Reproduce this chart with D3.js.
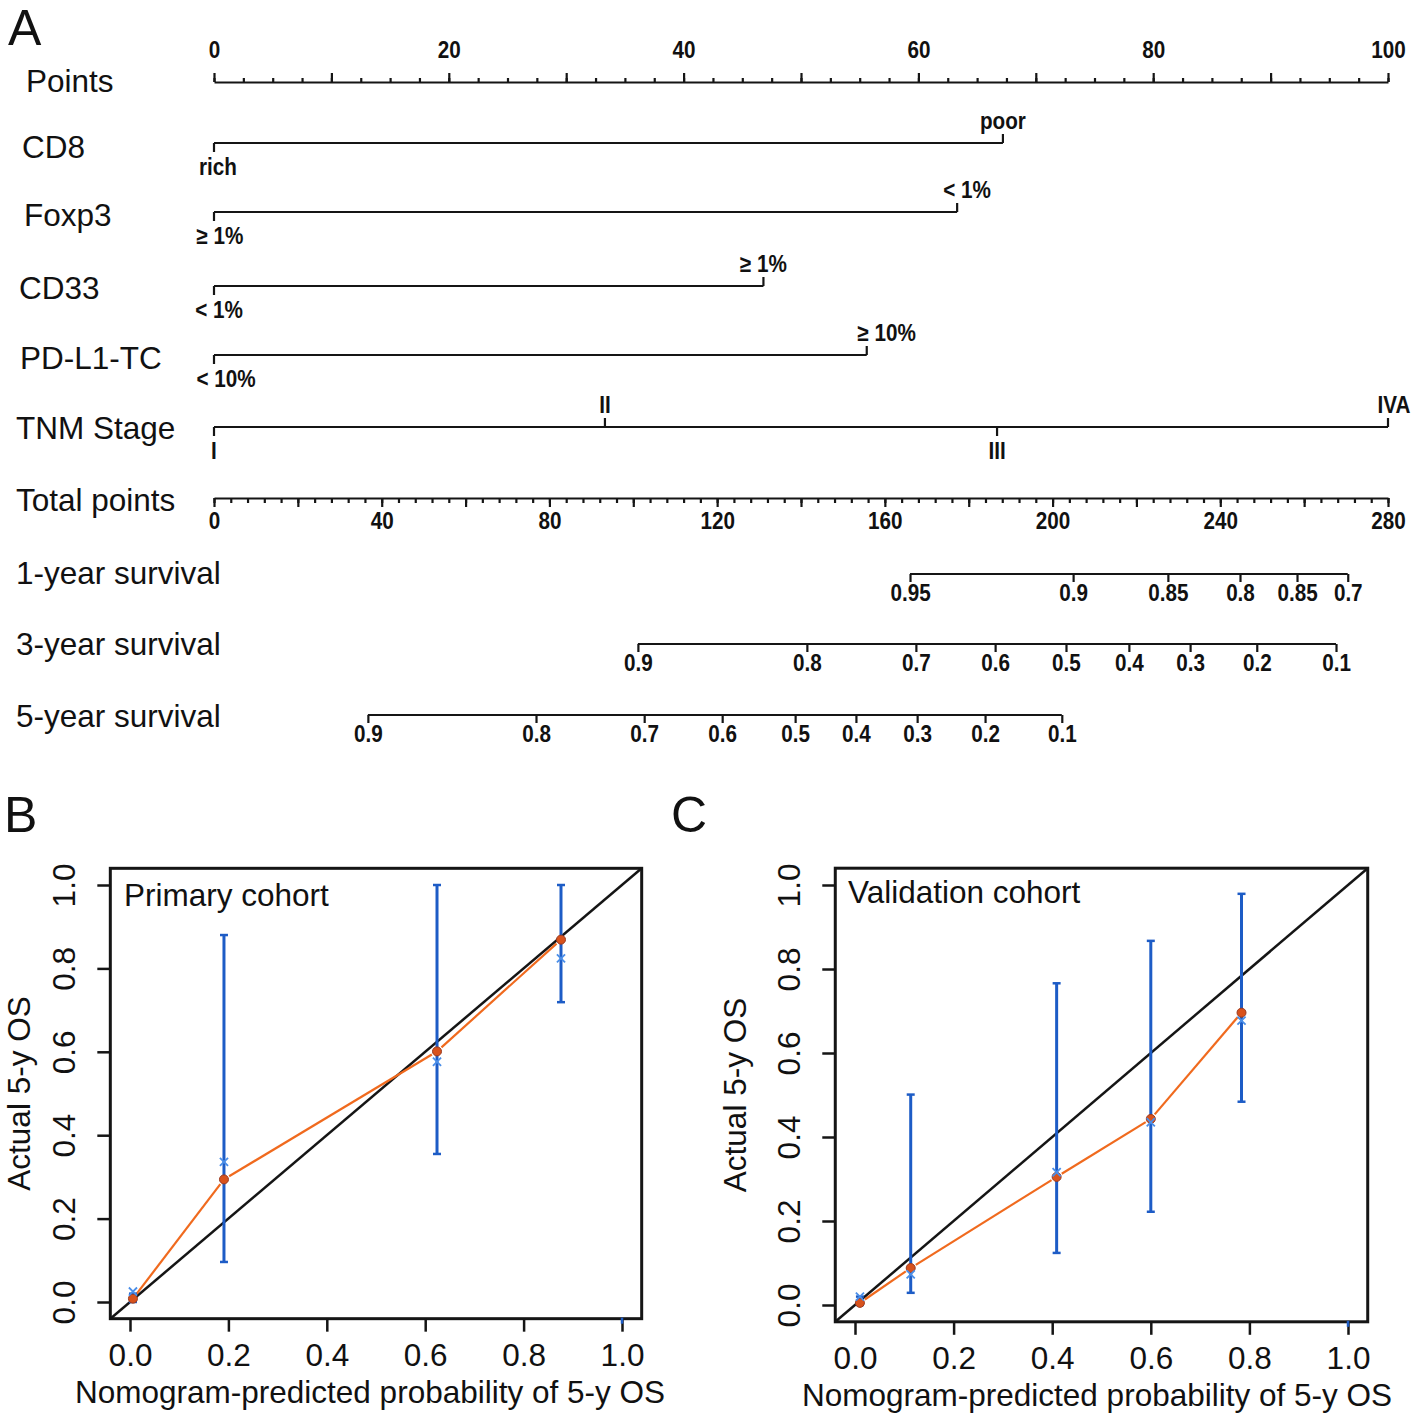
<!DOCTYPE html>
<html>
<head>
<meta charset="utf-8">
<script src="https://cdn.jsdelivr.net/npm/d3@7"></script>
<style>
  body { margin: 0; background: #fff; }
  svg text { fill: #111; }
</style>
</head>
<body>
<svg id="chart" width="1418" height="1420"></svg>
<script>
// ---- nomogram (panel A) ----
const pointsLabels = [0, 20, 40, 60, 80, 100];
const totalLabels = [0, 40, 80, 120, 160, 200, 240, 280];

const cd8Levels = ["rich", "poor"];
const cd8Points = [0, 67.2];
const foxp3Levels = ["≥ 1%", "< 1%"];
const foxp3Points = [0, 63.3];
const cd33Levels = ["< 1%", "≥ 1%"];
const cd33Points = [0, 46.8];
const pdl1Levels = ["< 10%", "≥ 10%"];
const pdl1Points = [0, 55.6];
const tnmLevels = ["I", "II", "III", "IVA"];
const tnmPoints = [0, 33.3, 66.7, 100];

// survival probabilities and the total points where they sit
const surv1Labels = ["0.95", "0.9", "0.85", "0.8", "0.85", "0.7"];
const surv1Total = [166, 204.9, 227.5, 244.7, 258.3, 270.4];
const surv3Labels = ["0.9", "0.8", "0.7", "0.6", "0.5", "0.4", "0.3", "0.2", "0.1"];
const surv3Total = [101.1, 141.4, 167.4, 186.3, 203.2, 218.2, 232.8, 248.7, 267.6];
const surv5Labels = ["0.9", "0.8", "0.7", "0.6", "0.5", "0.4", "0.3", "0.2", "0.1"];
const surv5Total = [36.7, 76.8, 102.6, 121.2, 138.6, 153.1, 167.7, 183.9, 202.2];

// ---- calibration (panels B, C) ----
const primPred = [0.006, 0.191, 0.624, 0.876];
const primObs = [0.008, 0.294, 0.601, 0.869];
const primKM = [0.025, 0.336, 0.576, 0.824];
const primLo = [0.0, 0.096, 0.355, 0.719];
const primHi = [0.02, 0.88, 1.0, 1.0];

const valPred = [0.01, 0.113, 0.409, 0.6, 0.784];
const valObs = [0.005, 0.088, 0.305, 0.443, 0.696];
const valKM = [0.02, 0.073, 0.316, 0.435, 0.677];
const valLo = [0.0, 0.029, 0.124, 0.222, 0.484];
const valHi = [0.02, 0.501, 0.766, 0.867, 0.979];

const calTicks = [0, 0.2, 0.4, 0.6, 0.8, 1.0];

const svg = d3.select("#chart");
const labelFont = "'Liberation Sans', Arial, sans-serif";
const ink = "#151515";
const tickStyle = `bold 23.5px ${labelFont}`;
const squeeze = "scale(0.88,1)";

// panel letters
[["A", 8, 45], ["B", 4, 832], ["C", 671, 832]].forEach(([t, x, y]) => {
  svg.append("text").attr("x", x).attr("y", y)
    .style("font", `50px ${labelFont}`).text(t);
});

const pts = d3.scaleLinear().domain([0, 100]).range([214, 1388]);
const tot = d3.scaleLinear().domain([0, 280]).range([214, 1388]);

const nomo = svg.append("g");

function rowLabel(text, x, y) {
  nomo.append("text").attr("x", x).attr("y", y)
    .style("font", `31.5px ${labelFont}`).text(text);
}

function styleAxis(g) {
  g.selectAll("path, line").attr("stroke", ink).attr("stroke-width", 2.2);
  g.selectAll("text").style("font", tickStyle).attr("fill", ink).attr("transform", squeeze);
}

// Points axis
const yPoints = 82;
rowLabel("Points", 26, 92);
nomo.append("g").attr("transform", `translate(0,${yPoints})`)
  .call(d3.axisTop(pts).tickValues(d3.range(0, 100.01, 2.5)).tickSize(4).tickSizeOuter(0).tickFormat(""))
  .call(styleAxis);
nomo.append("g").attr("transform", `translate(0,${yPoints})`)
  .call(d3.axisTop(pts).tickValues(d3.range(0, 100.01, 10)).tickSize(9).tickFormat(""))
  .call(g => g.select(".domain").remove())
  .call(styleAxis);
nomo.append("g").attr("transform", `translate(0,${yPoints})`)
  .call(d3.axisTop(pts).tickValues(pointsLabels).tickSize(0).tickPadding(24))
  .call(g => g.select(".domain").remove())
  .call(styleAxis);

// predictor rows (shift = small label nudges, as in the figure)
const predictors = [
  { name: "CD8", levels: cd8Levels, points: cd8Points, y: 143, lx: 22, ly: 158, shift: [4, 0] },
  { name: "Foxp3", levels: foxp3Levels, points: foxp3Points, y: 212, lx: 24, ly: 226, shift: [6, 10] },
  { name: "CD33", levels: cd33Levels, points: cd33Points, y: 286, lx: 19, ly: 299, shift: [5, 0] },
  { name: "PD-L1-TC", levels: pdl1Levels, points: pdl1Points, y: 355, lx: 20, ly: 369, shift: [12, 20] },
  { name: "TNM Stage", levels: tnmLevels, points: tnmPoints, y: 427, lx: 16, ly: 439, shift: [0, 0, 0, 6] }
];

predictors.forEach(p => {
  rowLabel(p.name, p.lx, p.ly);
  const g = nomo.append("g");
  g.append("line")
    .attr("x1", pts(d3.min(p.points))).attr("x2", pts(d3.max(p.points)))
    .attr("y1", p.y).attr("y2", p.y)
    .attr("stroke", ink).attr("stroke-width", 2.2);
  p.levels.forEach((lev, i) => {
    const x = pts(p.points[i]);
    const up = i % 2 === 1;
    g.append("line").attr("x1", x).attr("x2", x)
      .attr("y1", p.y).attr("y2", up ? p.y - 9 : p.y + 9)
      .attr("stroke", ink).attr("stroke-width", 2.2);
    g.append("text")
      .attr("transform", `translate(${x + p.shift[i]},${up ? p.y - 14 : p.y + 32}) ${squeeze}`)
      .attr("text-anchor", "middle")
      .style("font", tickStyle).attr("fill", ink)
      .text(lev);
  });
});

// Total points axis
const yTotal = 498;
rowLabel("Total points", 16, 511);
nomo.append("g").attr("transform", `translate(0,${yTotal})`)
  .call(d3.axisBottom(tot).tickValues(d3.range(0, 280.01, 4)).tickSize(5).tickSizeOuter(0).tickFormat(""))
  .call(styleAxis);
nomo.append("g").attr("transform", `translate(0,${yTotal})`)
  .call(d3.axisBottom(tot).tickValues(d3.range(0, 280.01, 20)).tickSize(9).tickFormat(""))
  .call(g => g.select(".domain").remove())
  .call(styleAxis);
nomo.append("g").attr("transform", `translate(0,${yTotal})`)
  .call(d3.axisBottom(tot).tickValues(totalLabels).tickSize(0))
  .call(g => g.select(".domain").remove())
  .call(styleAxis)
  .call(g => g.selectAll("text").attr("y", 31).attr("dy", 0));

// survival rows
const survRows = [
  { name: "1-year survival", labels: surv1Labels, total: surv1Total, y: 574, ly: 584 },
  { name: "3-year survival", labels: surv3Labels, total: surv3Total, y: 644, ly: 655 },
  { name: "5-year survival", labels: surv5Labels, total: surv5Total, y: 715, ly: 727 }
];
survRows.forEach(r => {
  rowLabel(r.name, 16, r.ly);
  const g = nomo.append("g").attr("transform", `translate(0,${r.y})`);
  g.append("line")
    .attr("x1", tot(d3.min(r.total))).attr("x2", tot(d3.max(r.total)))
    .attr("stroke", ink).attr("stroke-width", 2.2);
  g.call(d3.axisBottom(tot).tickValues(r.total).tickSize(8)
      .tickFormat((d, i) => r.labels[i]))
    .call(g2 => g2.select(".domain").remove())
    .call(styleAxis)
    .call(g2 => g2.selectAll("text").attr("y", 27).attr("dy", 0));
});

// ---- calibration plots ----
function calPlot(opts) {
  const { pred, obs, km, lo, hi, title, x0, x1, y0, y1, ylabX, titleX, titleY, xlabX } = opts;
  const x = d3.scaleLinear().domain([0, 1]).range([x0, x1]);
  const y = d3.scaleLinear().domain([0, 1]).range([y0, y1]);
  const g = svg.append("g");
  const calFont = `31.5px ${labelFont}`;

  // frame (R usr region extends 4%)
  g.append("rect")
    .attr("x", x(-0.04)).attr("y", y(1.04))
    .attr("width", x(1.04) - x(-0.04)).attr("height", y(-0.04) - y(1.04))
    .attr("fill", "none").attr("stroke", ink).attr("stroke-width", 3);

  // axes
  const fmt = d3.format(".1f");
  g.append("g").attr("transform", `translate(0,${y(-0.04)})`)
    .call(d3.axisBottom(x).tickValues(calTicks).tickFormat(fmt).tickSize(13).tickSizeOuter(0))
    .call(a => a.select(".domain").remove())
    .call(a => a.selectAll("line").attr("stroke", ink).attr("stroke-width", 2.5))
    .call(a => a.selectAll("text").style("font", calFont).attr("fill", ink)
      .attr("y", 47).attr("dy", 0));

  const ax = g.append("g").attr("transform", `translate(${x(-0.04)},0)`)
    .call(d3.axisLeft(y).tickValues(calTicks).tickFormat(fmt).tickSize(13).tickSizeOuter(0))
    .call(a => a.select(".domain").remove())
    .call(a => a.selectAll("line").attr("stroke", ink).attr("stroke-width", 2.5));
  ax.selectAll("text")
    .style("font", calFont).attr("fill", ink)
    .attr("x", null)
    .attr("text-anchor", "middle")
    .attr("transform", "translate(-46,0) rotate(-90)")
    .attr("y", 0).attr("dy", "0.35em");

  // axis titles
  g.append("text").attr("x", xlabX).attr("y", y(-0.04) + 84)
    .attr("text-anchor", "middle").style("font", calFont)
    .text("Nomogram-predicted probability of 5-y OS");
  g.append("text")
    .attr("transform", `translate(${ylabX},${(y(-0.04) + y(1.04)) / 2}) rotate(-90)`)
    .attr("text-anchor", "middle").attr("dy", "0.35em")
    .style("font", calFont)
    .text("Actual 5-y OS");

  g.append("text").attr("x", titleX).attr("y", titleY)
    .style("font", calFont).text(title);

  // ideal line
  g.append("line")
    .attr("x1", x(-0.04)).attr("y1", y(-0.04))
    .attr("x2", x(1.04)).attr("y2", y(1.04))
    .attr("stroke", ink).attr("stroke-width", 2.5);

  // orange observed line with small gaps around points (type = "b")
  const gap = 6;
  for (let i = 0; i < pred.length - 1; i++) {
    const ax1 = x(pred[i]), ay1 = y(obs[i]);
    const ax2 = x(pred[i + 1]), ay2 = y(obs[i + 1]);
    const len = Math.hypot(ax2 - ax1, ay2 - ay1);
    const ux = (ax2 - ax1) / len, uy = (ay2 - ay1) / len;
    g.append("line")
      .attr("x1", ax1 + ux * gap).attr("y1", ay1 + uy * gap)
      .attr("x2", ax2 - ux * gap).attr("y2", ay2 - uy * gap)
      .attr("stroke", "#f06a1e").attr("stroke-width", 2.2);
  }

  // error bars
  const blue = "#1d5cc6";
  pred.forEach((p, i) => {
    const px = x(p);
    g.append("line").attr("x1", px).attr("x2", px)
      .attr("y1", y(lo[i])).attr("y2", y(hi[i]))
      .attr("stroke", blue).attr("stroke-width", 3);
    [lo[i], hi[i]].forEach(v => {
      g.append("line").attr("x1", px - 4).attr("x2", px + 4)
        .attr("y1", y(v)).attr("y2", y(v))
        .attr("stroke", blue).attr("stroke-width", 2.5);
    });
  });

  // observed dots
  g.selectAll("circle.obs").data(pred).join("circle")
    .attr("class", "obs")
    .attr("cx", d => x(d)).attr("cy", (d, i) => y(obs[i]))
    .attr("r", 4.5).attr("fill", "#d8521c").attr("stroke", "#9a3a20").attr("stroke-width", 1);

  // KM estimates (x marks)
  g.selectAll("path.km").data(pred).join("path")
    .attr("class", "km")
    .attr("transform", (d, i) => `translate(${x(d)},${y(km[i])})`)
    .attr("d", d3.symbol(d3.symbolX, 45)())
    .attr("fill", "none").attr("stroke", "#4a8ee8").attr("stroke-width", 1.8);

  // small blue rug mark at predicted = 1
  g.append("line").attr("x1", x(1)).attr("x2", x(1))
    .attr("y1", y(-0.04) - 1).attr("y2", y(-0.04) + 5)
    .attr("stroke", blue).attr("stroke-width", 2.5);
}

calPlot({
  pred: primPred, obs: primObs, km: primKM, lo: primLo, hi: primHi,
  title: "Primary cohort",
  x0: 130, x1: 622, y0: 1302, y1: 885,
  ylabX: 19, titleX: 124, titleY: 906, xlabX: 370
});

calPlot({
  pred: valPred, obs: valObs, km: valKM, lo: valLo, hi: valHi,
  title: "Validation cohort",
  x0: 855, x1: 1348, y0: 1305, y1: 885,
  ylabX: 735, titleX: 848, titleY: 903, xlabX: 1097
});
</script>
</body>
</html>
